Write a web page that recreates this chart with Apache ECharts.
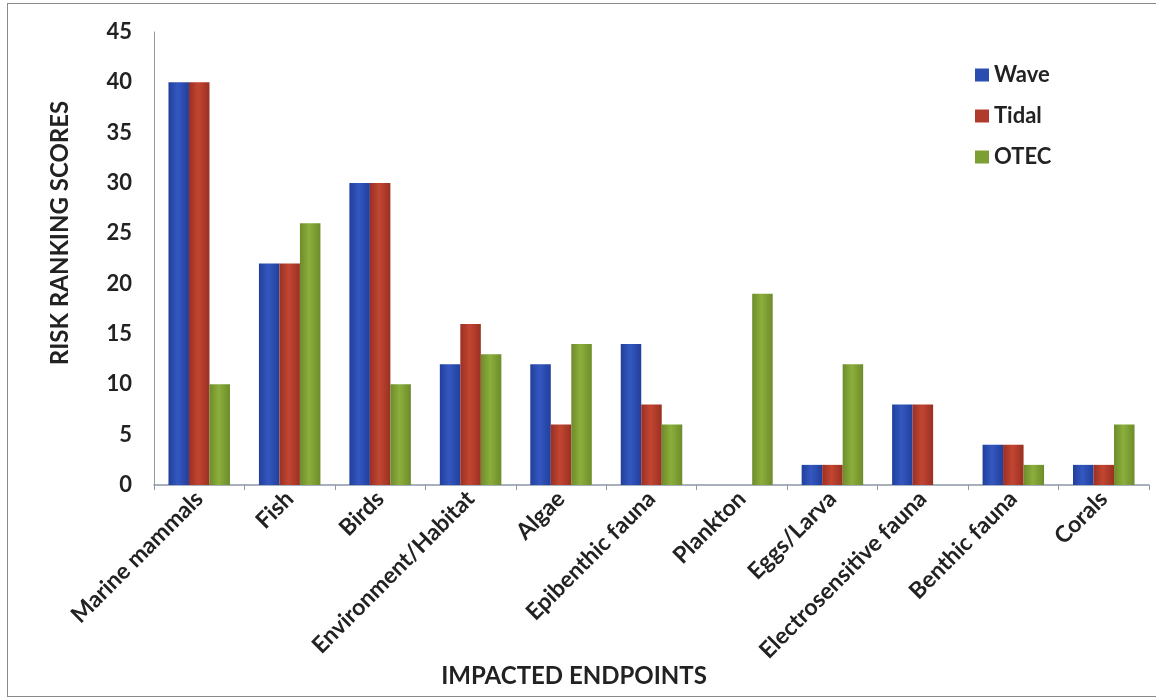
<!DOCTYPE html>
<html><head><meta charset="utf-8">
<script src="https://cdn.jsdelivr.net/npm/echarts@6/dist/echarts.min.js"></script>
<style>
html,body{margin:0;padding:0;background:#fff;}
#frame{position:absolute;left:7px;top:3px;width:1152px;height:694px;border:1.5px solid #8a8a8a;box-sizing:border-box;}
#c{position:absolute;left:0;top:0;width:1156px;height:698px;}
</style></head>
<body>
<div id="frame"></div>
<div id="c"></div>
<script>
const categories = ['Marine mammals','Fish','Birds','Environment/Habitat','Algae','Epibenthic fauna','Plankton','Eggs/Larva','Electrosensitive fauna','Benthic fauna','Corals'];
const wave  = [40, 22, 30, 12, 12, 14, 0, 2, 8, 4, 2];
const tidal = [40, 22, 30, 16, 6, 8, 0, 2, 8, 4, 2];
const otec  = [10, 26, 10, 13, 14, 6, 19, 12, 0, 2, 6];
const yTicks = [0,5,10,15,20,25,30,35,40,45];

function grad(dark, mid){
  return new echarts.graphic.LinearGradient(0,0,1,0,[
    {offset:0,color:dark},{offset:0.45,color:mid},{offset:1,color:dark}
  ]);
}
const chart = echarts.init(document.getElementById('c'));
const font = 'Lato, "Open Sans", sans-serif';
chart.setOption({
  backgroundColor:'transparent',
  animation:false,
  textStyle:{fontFamily:font},
  grid:{left:154,right:7,top:32,bottom:213,containLabel:false},
  graphic:[
    {type:'text',x:574,y:676,style:{text:'IMPACTED ENDPOINTS',fontFamily:font,fontWeight:'bold',fontSize:24,fill:'#222',textAlign:'center',textVerticalAlign:'middle'}},
    {type:'text',x:60,y:233,rotation:Math.PI/2,style:{text:'RISK RANKING SCORES',fontFamily:font,fontWeight:'bold',fontSize:24,fill:'#222',textAlign:'center',textVerticalAlign:'middle'}}
  ],
  legend:{
    orient:'vertical', left:970, top:59, itemGap:19, itemWidth:14, itemHeight:13,
    icon:'rect',
    textStyle:{fontFamily:font,fontWeight:'bold',fontSize:22,color:'#222'},
    data:[{name:'Wave',itemStyle:{color:'#2a4db0'}},{name:'Tidal',itemStyle:{color:'#b03a2c'}},{name:'OTEC',itemStyle:{color:'#7d9e33'}}]
  },
  xAxis:{
    type:'category', data:categories,
    axisLine:{lineStyle:{color:'#8c96a8',width:1.5}},
    axisTick:{show:true,length:5,lineStyle:{color:'#8c96a8'}},
    axisLabel:{rotate:45,interval:0,margin:10,fontFamily:font,fontWeight:'bold',fontSize:23,color:'#222'}
  },
  yAxis:{
    type:'value', min:0, max:45, interval:5,
    axisLine:{show:true,lineStyle:{color:'#999',width:1}},
    axisTick:{show:false},
    splitLine:{show:false},
    axisLabel:{margin:22,fontFamily:font,fontWeight:'bold',fontSize:22,color:'#222',
      formatter:v=>yTicks.includes(v)?String(v):''}
  },
  series:[
    {name:'Wave',type:'bar',data:wave,barGap:'0%',barCategoryGap:'32%',itemStyle:{color:grad('#213f9c','#3458c0')}},
    {name:'Tidal',type:'bar',data:tidal,barGap:'0%',barCategoryGap:'32%',itemStyle:{color:grad('#9a3022','#c24632')}},
    {name:'OTEC',type:'bar',data:otec,barGap:'0%',barCategoryGap:'32%',itemStyle:{color:grad('#6d8c2a','#8cae3c')}}
  ]
});
</script>
</body></html>
